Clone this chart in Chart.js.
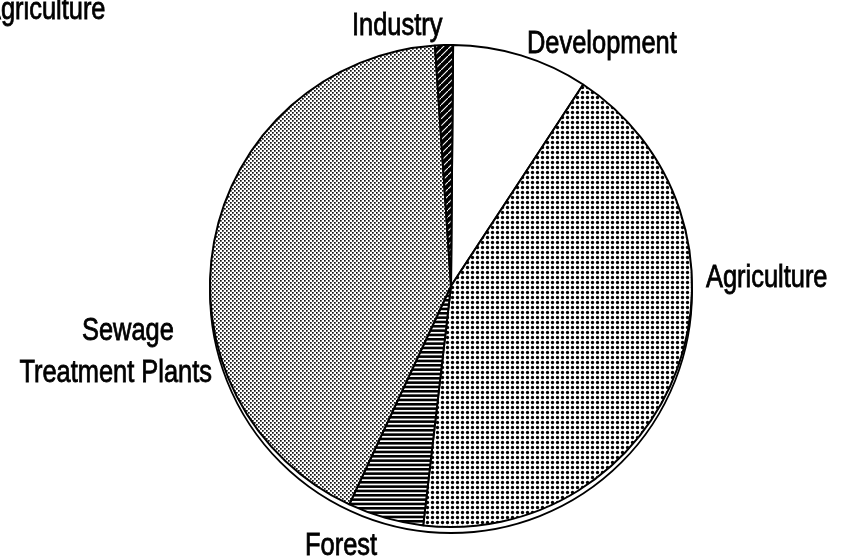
<!DOCTYPE html>
<html>
<head>
<meta charset="utf-8">
<script src="https://cdn.jsdelivr.net/npm/chart.js@4.4.1/dist/chart.umd.min.js"></script>
<style>
  html, body { margin: 0; padding: 0; background: #fff; }
  canvas { display: block; }
</style>
</head>
<body>
<canvas id="sources" width="846" height="557"></canvas>
<script>
// share of the load by source, percent, clockwise from 12 o'clock
const categories = ['Development', 'Agriculture', 'Forest', 'Sewage Treatment Plants', 'Industry']
const shares = [9.1, 42.6, 5.1, 42.0, 1.2]
const startAngle = 0.5

// narrow sans look: Liberation Sans squeezed sideways
const labelFont = '31px "Liberation Sans", Arial, sans-serif'
const squeeze = 0.82

// small tiles used as fills for the slices
function tile(w, h, paint) {
  let c = document.createElement('canvas')
  c.width = w
  c.height = h
  let g = c.getContext('2d')
  g.fillStyle = '#fff'
  g.fillRect(0, 0, w, h)
  g.fillStyle = '#000'
  g.strokeStyle = '#000'
  paint(g)
  return document.createElement('canvas').getContext('2d').createPattern(c, 'repeat')
}

const blank = '#ffffff'

const coarseDots = tile(5, 5, g => {
  g.beginPath()
  g.arc(2.5, 2.5, 1.65, 0, Math.PI * 2)
  g.fill()
})

const fineDots = tile(4, 4, g => {
  g.fillStyle = '#111'
  g.fillRect(0, 0, 1.7, 1.7)
  g.fillRect(2, 2, 1.7, 1.7)
})

const stripes = tile(13, 13, g => {
  for (let i = 0; i < 3; i++) {
    g.fillRect(0, i * 13 / 3, 13, 2.6)
  }
})

const hatch = tile(7, 7, g => {
  g.fillRect(0, 0, 7, 7)
  g.strokeStyle = '#fff'
  g.lineWidth = 1.1
  g.beginPath()
  g.moveTo(-1, 8); g.lineTo(8, -1)
  g.stroke()
})

const fills = [blank, coarseDots, stripes, fineDots, hatch]

// thin edge below the disc so it reads like a thick plate
const rim = {
  id: 'rim',
  beforeDatasetsDraw(chart) {
    let arc = chart.getDatasetMeta(0).data[0]
    let ctx = chart.ctx
    ctx.save()
    ctx.beginPath()
    ctx.arc(arc.x, arc.y + 6, arc.outerRadius, 0, Math.PI * 2)
    ctx.fillStyle = '#fff'
    ctx.fill()
    ctx.lineWidth = 1.8
    ctx.strokeStyle = '#000'
    ctx.stroke()
    ctx.restore()
  }
}

function label(ctx, text, x, y, align) {
  ctx.save()
  ctx.translate(x, y)
  ctx.scale(squeeze, 1)
  ctx.textAlign = align || 'left'
  ctx.fillText(text, 0, 0)
  ctx.strokeText(text, 0, 0)
  ctx.restore()
}

const labels = {
  id: 'labels',
  afterDraw(chart) {
    let ctx = chart.ctx
    ctx.save()
    ctx.font = labelFont
    ctx.fillStyle = '#000'
    ctx.strokeStyle = '#000'
    ctx.lineWidth = 0.8
    ctx.textBaseline = 'alphabetic'
    label(ctx, 'Agriculture', -16, 19)
    label(ctx, 'Industry', 352, 35)
    label(ctx, 'Development', 527, 53)
    label(ctx, 'Agriculture', 706, 287)
    label(ctx, 'Sewage', 82, 340)
    label(ctx, 'Treatment Plants', 212, 382, 'right')
    label(ctx, 'Forest', 305, 555)
    ctx.restore()
  }
}

new Chart(document.getElementById('sources'), {
  type: 'pie',
  data: {
    labels: categories,
    datasets: [{
      data: shares,
      backgroundColor: fills,
      borderColor: '#000',
      borderWidth: 2
    }]
  },
  options: {
    responsive: false,
    animation: false,
    rotation: startAngle,
    layout: {
      padding: { left: 151, right: 95, top: 44, bottom: 29 }
    },
    plugins: {
      legend: { display: false },
      tooltip: { enabled: false }
    }
  },
  plugins: [rim, labels]
})
</script>
</body>
</html>
